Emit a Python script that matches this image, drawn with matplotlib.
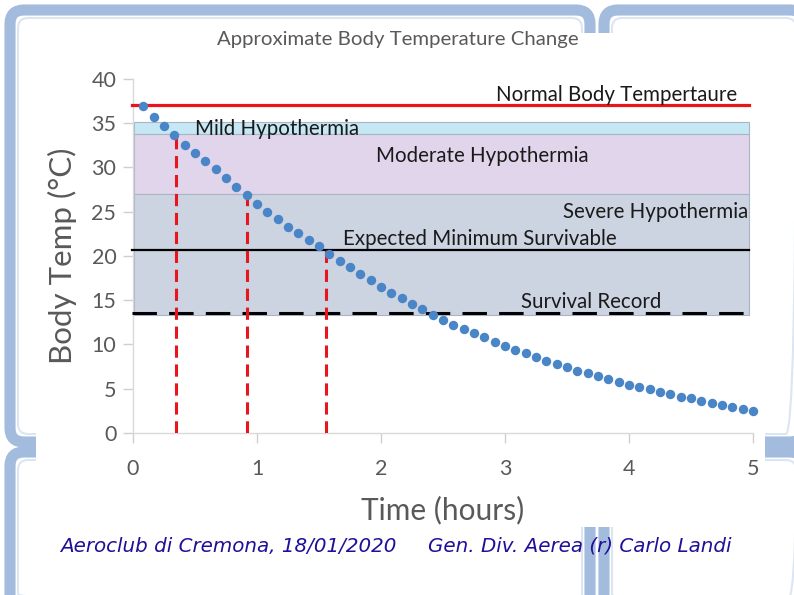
import matplotlib
matplotlib.use('Agg')
import matplotlib.pyplot as plt
from matplotlib.patches import FancyBboxPatch, Rectangle

# Cooling curve, one reading every 5 minutes
minutes = list(range(5, 301, 5))
temps = [36.9, 35.7, 34.65, 33.6, 32.5, 31.55, 30.7, 29.8, 28.75, 27.8,
         26.85, 25.8, 24.9, 24.1, 23.3, 22.6, 21.8, 21.1, 20.2, 19.45,
         18.7, 18.0, 17.3, 16.5, 15.85, 15.2, 14.55, 14.0, 13.3, 12.75,
         12.2, 11.7, 11.25, 10.8, 10.3, 9.85, 9.35, 9.0, 8.6, 8.15,
         7.8, 7.4, 7.05, 6.8, 6.4, 6.1, 5.8, 5.4, 5.15, 4.95,
         4.6, 4.35, 4.1, 3.9, 3.6, 3.35, 3.15, 2.95, 2.7, 2.5]
hours = [m / 60 for m in minutes]

# Temperature zones
zone_names = ['Mild Hypothermia', 'Moderate Hypothermia', 'Severe Hypothermia']
zone_low = [33.7, 27.0, 13.3]
zone_high = [35.1, 33.7, 27.0]
zone_colors = ['#c6e8f4', '#e0d5ea', '#ccd3e1']

normal_temp = 37.0
min_survivable = 20.6
survival_record = 13.5

# Times at which the curve crosses the zone limits
cross_t = [0.35, 0.92, 1.56]
cross_temp = [33.7, 27.0, 20.6]

W, H = 794, 595
fig = plt.figure(figsize=(W / 100, H / 100), dpi=100)
fig.patch.set_facecolor('white')

# slide background with the template frames
bg = fig.add_axes([0, 0, 1, 1])
bg.set_xlim(0, W)
bg.set_ylim(H, 0)
bg.axis('off')
panels = [(10, 10, 580, 432), (604, 10, 200, 432), (10, 452, 580, 160), (604, 452, 200, 160)]
for x0, y0, w, h in panels:
    bg.add_patch(FancyBboxPatch((x0, y0), w, h, boxstyle='round,pad=0,rounding_size=14',
                                fc='white', ec='#a3bbdd', lw=8))
    bg.add_patch(FancyBboxPatch((x0 + 8, y0 + 8), w - 16, h - 16,
                                boxstyle='round,pad=0,rounding_size=10',
                                fc='none', ec='#dce6f3', lw=1.5))
# the pasted chart picture
bg.add_patch(Rectangle((36, 33), 729, 494, fc='white', ec='none'))

# main chart axes
left, right, top, bottom = 133, 753, 78.6, 433
ax = fig.add_axes([left / W, 1 - bottom / H, (right - left) / W, (bottom - top) / H])
ax.set_facecolor('none')
ax.set_xlim(0, 5)
ax.set_ylim(0, 40)

for lo, hi, c in zip(zone_low, zone_high, zone_colors):
    ax.add_patch(Rectangle((0.01, lo), 4.96, hi - lo, fc=c, ec='#aab4c6', lw=0.8, zorder=1))

ax.plot([-0.01, 4.97], [normal_temp] * 2, color='#e8161c', lw=2.3, zorder=3, clip_on=False)
ax.plot([-0.01, 4.97], [min_survivable] * 2, color='black', lw=1.6, zorder=3, clip_on=False)
ax.plot([-0.01, 4.97], [survival_record] * 2, color='black', lw=2.2,
        dashes=(8, 4), zorder=3, clip_on=False)

for t, v in zip(cross_t, cross_temp):
    ax.plot([t, t], [0, v], color='#e8161c', lw=2.2, dashes=(4, 2.2), zorder=4)

ax.plot(hours, temps, 'o', color='#4a85c7', ms=6.8, mec='none', zorder=5, clip_on=False)

lab = dict(fontsize=14.8, color='#1a1a1a', family='Lato', va='center', zorder=6)
ax.text(4.87, 38.15, 'Normal Body Tempertaure', ha='right', **lab)
ax.text(0.5, 34.3, zone_names[0], ha='left', **lab)
ax.text(1.96, 31.3, zone_names[1], ha='left', **lab)
ax.text(4.96, 24.9, zone_names[2], ha='right', **lab)
ax.text(1.69, 21.9, 'Expected Minimum Survivable', ha='left', **lab)
ax.text(3.13, 14.8, 'Survival Record', ha='left', **lab)

for s in ['top', 'right']:
    ax.spines[s].set_visible(False)
for s in ['left', 'bottom']:
    ax.spines[s].set_color('#d9d9d9')
    ax.spines[s].set_linewidth(1)
ax.set_xticks(range(0, 6))
ax.set_yticks(range(0, 41, 5))
ax.tick_params(colors='#d0d0d0', length=7, width=1, labelcolor='#595959', labelsize=15.5, pad=5)
for lbl in ax.get_xticklabels() + ax.get_yticklabels():
    lbl.set_family('Lato')
ax.tick_params(axis='x', pad=12)

ax.set_xlabel('Time (hours)', fontsize=21.5, color='#595959', family='Lato', labelpad=12)
ax.set_ylabel('Body Temp (°C)', fontsize=22.5, color='#595959', family='Lato', labelpad=10)
fig.text(398 / W, 1 - 40 / H, 'Approximate Body Temperature Change', ha='center', va='center',
         fontsize=14.7, color='#595959', family='Lato')

foot = dict(fontsize=14.3, color='#1f0f99', style='italic', family='DejaVu Sans', va='center')
fig.text(60 / W, 1 - 546 / H, 'Aeroclub di Cremona, 18/01/2020', ha='left', **foot)
fig.text(428 / W, 1 - 546 / H, 'Gen. Div. Aerea (r) Carlo Landi', ha='left', **foot)

fig.savefig('out.png', dpi=100)
